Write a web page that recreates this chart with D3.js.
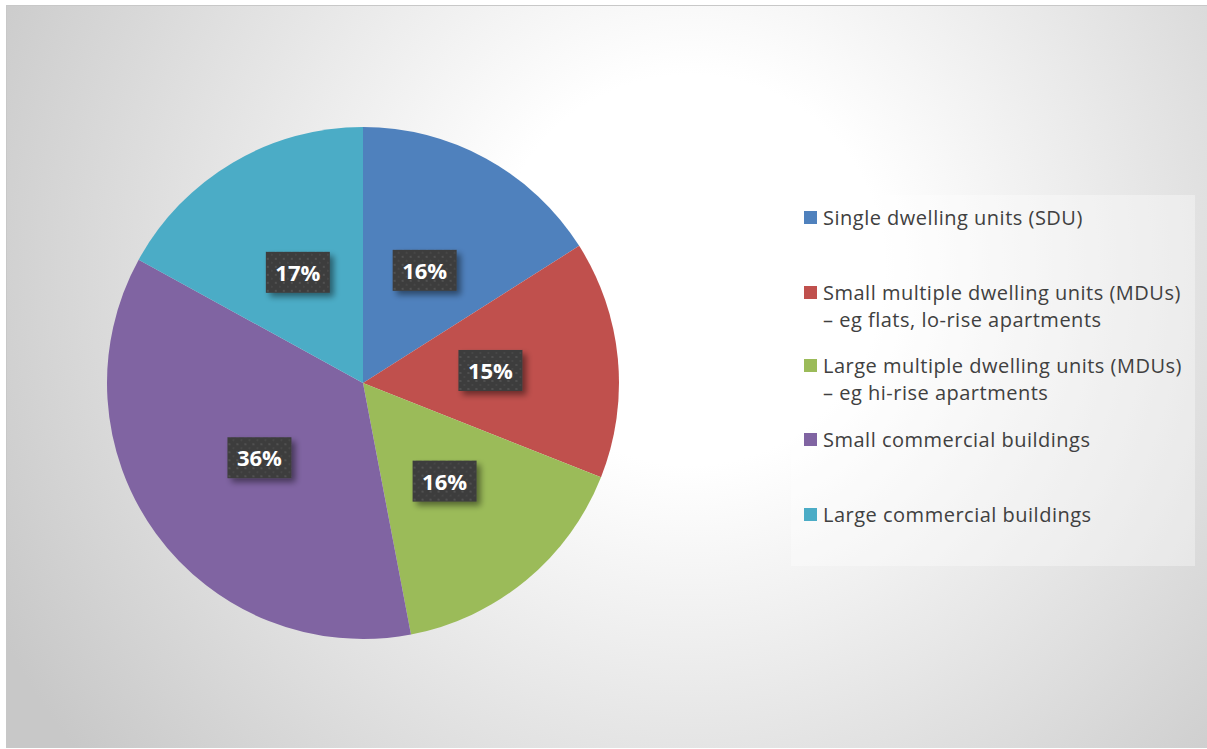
<!DOCTYPE html>
<html><head><meta charset="utf-8">
<script src="https://cdn.jsdelivr.net/npm/d3@7"></script>
<style>html,body{margin:0;padding:0;background:#fff;}svg{display:block;}</style>
</head><body>
<script>
const categories = ["Single dwelling units (SDU)", "Small multiple dwelling units (MDUs)|– eg flats, lo-rise apartments", "Large multiple dwelling units (MDUs)|– eg hi-rise apartments", "Small commercial buildings", "Large commercial buildings"];
const values = [16, 15, 16, 36, 17];
const labels = ["16%", "15%", "16%", "36%", "17%"];
const colors = ["#4F81BD", "#C0504D", "#9BBB59", "#8064A2", "#4BACC6"];

const W = 1207, H = 749;
const svg = d3.select("body").append("svg").attr("width", W).attr("height", H);
const defs = svg.append("defs");
const grad = defs.append("radialGradient").attr("id","bg").attr("gradientUnits","userSpaceOnUse")
  .attr("cx",690).attr("cy",270).attr("r",780);
grad.append("stop").attr("offset","0").attr("stop-color","#ffffff");
grad.append("stop").attr("offset","0.25").attr("stop-color","#ffffff");
grad.append("stop").attr("offset","1").attr("stop-color","#c8c8c8");

const pat = defs.append("pattern").attr("id","dots").attr("patternUnits","userSpaceOnUse").attr("width",8).attr("height",8);
pat.append("rect").attr("width",8).attr("height",8).attr("fill","#3d3d3d");
pat.append("circle").attr("cx",2).attr("cy",2).attr("r",1.1).attr("fill","#555555");
pat.append("circle").attr("cx",6).attr("cy",6).attr("r",0.9).attr("fill","#4a4a4a");

const sh = defs.append("filter").attr("id","shadow").attr("x","-30%").attr("y","-30%").attr("width","160%").attr("height","160%");
sh.append("feGaussianBlur").attr("in","SourceAlpha").attr("stdDeviation",3);
sh.append("feOffset").attr("dx",4).attr("dy",4).attr("result","b");
sh.append("feComponentTransfer").append("feFuncA").attr("type","linear").attr("slope",0.45);
const m = sh.append("feMerge"); m.append("feMergeNode"); m.append("feMergeNode").attr("in","SourceGraphic");

svg.append("rect").attr("x",6).attr("y",5).attr("width",W-6).attr("height",H-6).attr("fill","url(#bg)");
svg.append("line").attr("x1",6).attr("x2",W).attr("y1",5.5).attr("y2",5.5).attr("stroke","#c8c8c8");
svg.append("line").attr("x1",6.5).attr("x2",6.5).attr("y1",5).attr("y2",H-1).attr("stroke","#c8c8c8");

const cx = 363, cy = 383, R = 256;
const pie = d3.pie().sort(null).value(d => d)(values);
const arc = d3.arc().innerRadius(0).outerRadius(R);
const g = svg.append("g").attr("transform",`translate(${cx},${cy})`);
g.selectAll("path.slice").data(pie).join("path").attr("class","slice")
  .attr("d", arc).attr("fill", (d,i) => colors[i]);

const lg = g.selectAll("g.lab").data(pie).join("g").attr("class","lab")
  .attr("transform", d => { const c = arc.centroid(d); return `translate(${c[0]},${c[1]})`; });
lg.append("rect").attr("x",-32).attr("y",-21).attr("width",64).attr("height",41)
  .attr("fill","url(#dots)").attr("filter","url(#shadow)");
lg.append("text").attr("text-anchor","middle").attr("dy","0.36em")
  .attr("font-family","'Open Sans', sans-serif").attr("font-weight","bold").attr("font-size",22)
  .attr("fill","#ffffff").text((d,i) => labels[i]);

// legend
svg.append("rect").attr("x",791).attr("y",195).attr("width",404).attr("height",371)
  .attr("fill","#ffffff").attr("fill-opacity",0.35);
const rowY = [218, 293, 366, 440, 515];
const leg = svg.append("g");
categories.forEach((c, i) => {
  leg.append("rect").attr("x",804).attr("y",rowY[i]-7).attr("width",13).attr("height",13).attr("fill",colors[i]);
  c.split("|").forEach((line, j) => {
    leg.append("text").attr("x",823).attr("y",rowY[i] + j*27).attr("dy","0.35em")
      .attr("font-family","'Open Sans', sans-serif").attr("font-size",20).attr("letter-spacing",0.5).attr("fill","#404040")
      .text(line);
  });
});
</script>
</body></html>
